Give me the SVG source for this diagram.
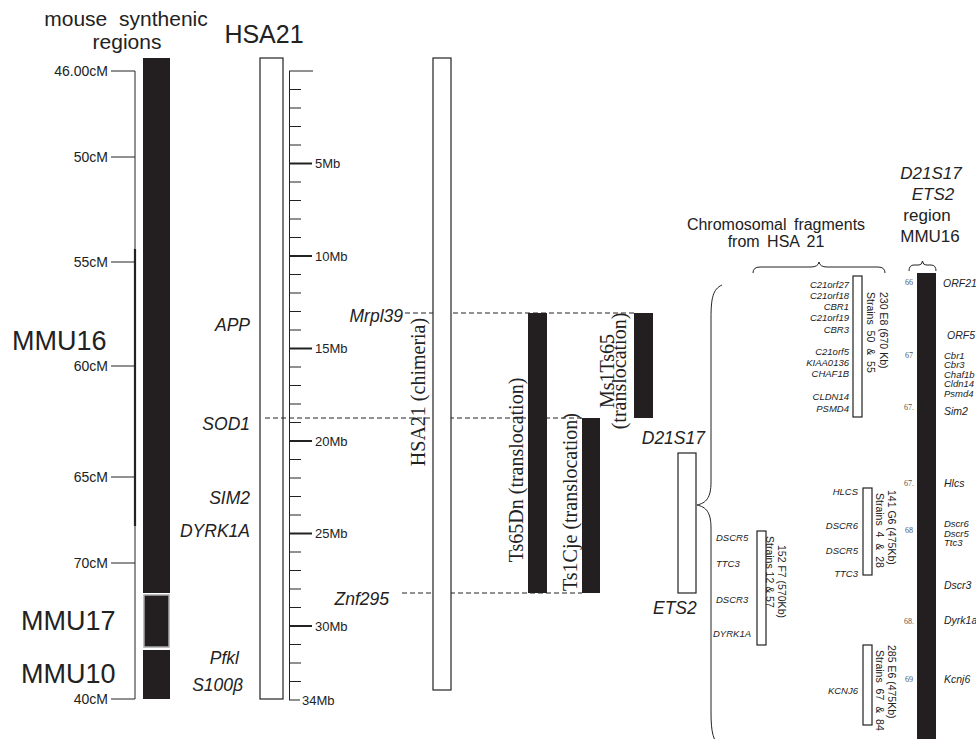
<svg xmlns="http://www.w3.org/2000/svg" width="976" height="739" viewBox="0 0 976 739">
<style>
text{font-family:"Liberation Sans",Arial,Helvetica,sans-serif;fill:#222}
.t{font-size:21px}
.h{font-size:25px}
.ax{font-size:14px;text-anchor:end}
.mb{font-size:13px}
.g{font-style:italic;font-size:17.5px}
.big{font-size:27px}
.rs{font-family:"Liberation Serif","Times New Roman",serif;font-size:20px;text-anchor:middle}
.fg{font-style:italic;font-size:9.5px}
.rg{font-style:italic;font-size:10.5px}
.rt{font-style:italic;font-size:9.5px}
.vt{font-size:10.5px}
.hd{font-size:16px;text-anchor:middle}
.hr{font-size:17px;text-anchor:middle}
.num{font-family:"Liberation Serif","Times New Roman",serif;font-size:8px;fill:#555;text-anchor:end}
.ln{stroke:#222;fill:none;stroke-width:1}
.dash{stroke:#222;stroke-width:1;stroke-dasharray:5 3;fill:none}
.blk{fill:#231f20}
.wht{fill:#fff;stroke:#222;stroke-width:1.2}
.e{text-anchor:end}
</style>

<g id="titles">
<text class="t" x="126" y="26" text-anchor="middle" word-spacing="6">mouse synthenic</text>
<text class="t" x="127" y="49" text-anchor="middle">regions</text>
<text class="h" x="264" y="43" text-anchor="middle">HSA21</text>
</g>

<g id="cm-axis">
<path class="ln" d="M135 71V699M111 71H135M111 157H135M111 262H135M111 366H135M111 477H135M111 563H135M111 699H135"/>
<path d="M135 249V526" stroke="#222" stroke-width="2.2" fill="none"/>
<text class="ax" x="108" y="76">46.00cM</text>
<text class="ax" x="108" y="162">50cM</text>
<text class="ax" x="108" y="267">55cM</text>
<text class="ax" x="108" y="371">60cM</text>
<text class="ax" x="108" y="482">65cM</text>
<text class="ax" x="108" y="568">70cM</text>
<text class="ax" x="108" y="704">40cM</text>
<text class="big" x="12" y="350">MMU16</text>
<text class="big" x="21" y="630">MMU17</text>
<text class="big" x="21" y="683">MMU10</text>
</g>

<g id="mouse-bar">
<rect class="blk" x="143" y="58" width="27" height="535"/>
<rect class="blk" x="144" y="595" width="25" height="52" stroke="#aaa" stroke-width="1.5"/>
<rect class="blk" x="143" y="650" width="27" height="49"/>
</g>

<g id="hsa21">
<rect class="wht" x="260" y="58" width="23" height="641"/>
<text class="g e" x="250" y="331">APP</text>
<text class="g e" x="250" y="430">SOD1</text>
<text class="g e" x="250" y="504">SIM2</text>
<text class="g e" x="250" y="537">DYRK1A</text>
<text class="g e" x="239" y="664">Pfkl</text>
<text class="g e" x="243" y="691">S100β</text>
</g>

<g id="mb-ruler">
<path class="ln" d="M289.5 71V700M289 71H313M289 700H300"/>
<path class="ln" d="M289 89.5h12M289 108h12M289 126.5h12M289 145h12M289 182h12M289 200.5h12M289 219h12M289 237.5h12M289 274.5h12M289 293h12M289 311.5h12M289 330h12M289 367h12M289 385.5h12M289 404h12M289 422.5h12M289 459.5h12M289 478h12M289 496.5h12M289 515h12M289 552h12M289 570.5h12M289 589h12M289 607.5h12M289 644.5h12M289 663h12M289 681.5h12"/>
<path d="M289 163.5H312M289 256H312M289 348.5H312M289 441H312M289 533.5H312M289 626H312" stroke="#222" stroke-width="2" fill="none"/>
<text class="mb" x="315" y="168">5Mb</text>
<text class="mb" x="315" y="261">10Mb</text>
<text class="mb" x="315" y="353">15Mb</text>
<text class="mb" x="315" y="446">20Mb</text>
<text class="mb" x="315" y="538">25Mb</text>
<text class="mb" x="315" y="631">30Mb</text>
<text class="mb" x="302" y="705">34Mb</text>
</g>

<g id="connectors">
<path class="dash" d="M405 313H634"/>
<path class="dash" d="M265 418H582"/>
<path class="dash" d="M402 593H582"/>
<path class="ln" d="M722 285C713 289 711 298 711 318L711 482C711 498 706 503 697 505C706 507 711 512 711 528L711 712C711 732 713 742 722 749"/>
<path class="ln" d="M753 273Q753 267 760 267L811 267Q818 267 819 262Q820 267 827 267L878 267Q885 267 885 273"/>
<path class="ln" d="M909 271Q909 265 914 265L919 265Q922 265 922.5 261Q923 265 926 265L931 265Q936 265 936 271"/>
</g>

<g id="gene-markers">
<text class="g e" x="403" y="322">Mrpl39</text>
<text class="g e" x="389" y="605">Znf295</text>
</g>

<g id="chimeria">
<rect class="wht" x="433" y="58" width="18" height="632"/>
<text class="rs" transform="translate(425,392) rotate(-90)">HSA21 (chimeria)</text>
</g>

<g id="ts65dn">
<rect class="blk" x="528" y="313" width="19" height="280"/>
<text class="rs" transform="translate(523,470) rotate(-90)">Ts65Dn (translocation)</text>
</g>

<g id="ts1cje">
<rect class="blk" x="582" y="418" width="18" height="175"/>
<text class="rs" transform="translate(577,502) rotate(-90)">Ts1Cje (translocation)</text>
</g>

<g id="ms1ts65">
<rect class="blk" x="634" y="313" width="19" height="105"/>
<text class="rs" transform="translate(614,371) rotate(-90)">Ms1Ts65</text>
<text class="rs" transform="translate(626,371) rotate(-90)">(translocation)</text>
</g>

<g id="d21s17-ets2">
<rect class="wht" x="678" y="453" width="18" height="140"/>
<text class="g e" x="705" y="444">D21S17</text>
<text class="g" x="653" y="614">ETS2</text>
</g>

<g id="fragments-title">
<text class="hd" x="776" y="230" word-spacing="3">Chromosomal fragments</text>
<text class="hd" x="776" y="247" word-spacing="3">from HSA 21</text>
</g>

<g id="frag-230E8">
<rect class="wht" x="853" y="276" width="9" height="141"/>
<text class="fg e" x="849" y="288">C21orf27</text>
<text class="fg e" x="849" y="299">C21orf18</text>
<text class="fg e" x="849" y="310">CBR1</text>
<text class="fg e" x="849" y="321">C21orf19</text>
<text class="fg e" x="849" y="333">CBR3</text>
<text class="fg e" x="849" y="355">C21orf5</text>
<text class="fg e" x="849" y="366">KIAA0136</text>
<text class="fg e" x="849" y="377">CHAF1B</text>
<text class="fg e" x="849" y="400">CLDN14</text>
<text class="fg e" x="849" y="412">PSMD4</text>
<text class="vt" transform="translate(880,292) rotate(90)">230 E8 (670 Kb)</text>
<text class="vt" transform="translate(867,292) rotate(90)" word-spacing="3">Strains 50 &amp; 55</text>
</g>

<g id="frag-141G6">
<rect class="wht" x="863" y="488" width="9" height="87"/>
<text class="fg e" x="858" y="495">HLCS</text>
<text class="fg e" x="858" y="529">DSCR6</text>
<text class="fg e" x="858" y="554">DSCR5</text>
<text class="fg e" x="858" y="577">TTC3</text>
<text class="vt" transform="translate(888,490) rotate(90)">141 G6 (475Kb)</text>
<text class="vt" transform="translate(876,493) rotate(90)" word-spacing="3">Strains 4 &amp; 28</text>
</g>

<g id="frag-152F7">
<rect class="wht" x="757" y="531" width="9" height="114"/>
<text class="fg" x="716" y="541">DSCR5</text>
<text class="fg" x="716" y="567">TTC3</text>
<text class="fg" x="716" y="603">DSCR3</text>
<text class="fg" x="713" y="637">DYRK1A</text>
<text class="vt" transform="translate(778,545) rotate(90)">152 F7 (570Kb)</text>
<text class="vt" transform="translate(766,536) rotate(90)">Strains 12 &amp; 57</text>
</g>

<g id="frag-285E6">
<rect class="wht" x="863" y="645" width="9" height="80"/>
<text class="fg e" x="858" y="694">KCNJ6</text>
<text class="vt" transform="translate(888,645) rotate(90)">285 E6 (475Kb)</text>
<text class="vt" transform="translate(876,650) rotate(90)" word-spacing="3">Strains 67 &amp; 84</text>
</g>

<g id="mmu16-region">
<text class="hr" x="931" y="179" font-style="italic">D21S17</text>
<text class="hr" x="933" y="200" font-style="italic">ETS2</text>
<text class="hr" x="927" y="221">region</text>
<text class="hr" x="930" y="242">MMU16</text>
<rect class="blk" x="917" y="273" width="19" height="470"/>
<text class="num" x="913" y="285">66</text>
<text class="num" x="913" y="358">67</text>
<text class="num" x="914" y="410">67.</text>
<text class="num" x="914" y="486">67.</text>
<text class="num" x="913" y="533">68</text>
<text class="num" x="914" y="624">68.</text>
<text class="num" x="913" y="682">69</text>
<text class="rg" x="943" y="287">ORF21</text>
<text class="rg" x="947" y="339">ORF5</text>
<text class="rt" x="944" y="358.5">Cbr1</text>
<text class="rt" x="944" y="368">Cbr3</text>
<text class="rt" x="944" y="377.5">Chaf1b</text>
<text class="rt" x="944" y="387">Cldn14</text>
<text class="rt" x="944" y="396.5">Psmd4</text>
<text class="rg" x="944" y="415">Sim2</text>
<text class="rg" x="944" y="487">Hlcs</text>
<text class="rt" x="944" y="527">Dscr6</text>
<text class="rt" x="944" y="536.5">Dscr5</text>
<text class="rt" x="944" y="546">Ttc3</text>
<text class="rg" x="944" y="589">Dscr3</text>
<text class="rg" x="944" y="624">Dyrk1a</text>
<text class="rg" x="944" y="683">Kcnj6</text>
</g>
</svg>
